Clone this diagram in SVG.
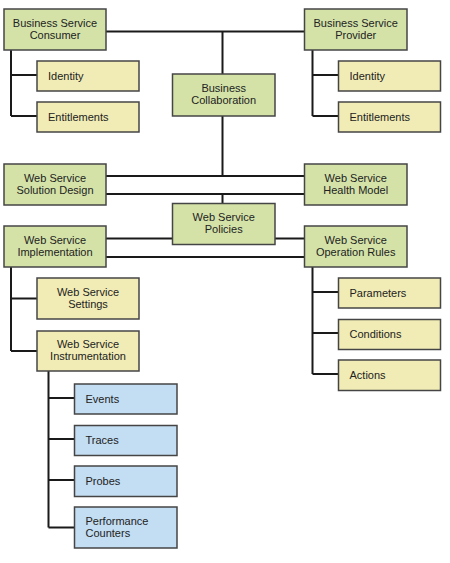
<svg xmlns="http://www.w3.org/2000/svg" width="450" height="563" viewBox="0 0 450 563">
<style>
.box{stroke:#454545;stroke-width:1.5}
.g{fill:#d4e2a8}
.y{fill:#f1ecb5}
.b{fill:#c3ddf2}
text{font-family:"Liberation Sans",Arial,sans-serif;font-size:11px;fill:#222}
.c{text-anchor:middle}
#connectors path{fill:none;stroke:#1a1a1a;stroke-width:2}
</style>
<rect width="450" height="563" fill="#fff"/>
<g id="connectors">
<path d="M106 31.5H304.5M222.5 31.5V74M222.5 116V176"/>
<path d="M11 50V116M11 75H37M11 116H37"/>
<path d="M312.5 50V116M312.5 75H338.5M312.5 116H338.5"/>
<path d="M106 176H304.5M106 194H304.5M222.5 194V203.5"/>
<path d="M106 238.5H172.5M275 238.5H304.5M106 257H304.5"/>
<path d="M11 267V351M11 298.5H37M11 351H37"/>
<path d="M48.5 371V527.5M48.5 398H74.5M48.5 439H74.5M48.5 480H74.5M48.5 527.5H74.5"/>
<path d="M312.5 267V374M312.5 292H338.5M312.5 333H338.5M312.5 374H338.5"/>
</g>
<g id="consumer"><rect class="box g" x="4" y="9" width="102" height="41"/><text class="c" x="55" y="26.5">Business Service</text><text class="c" x="55" y="38.5">Consumer</text></g>
<g id="provider"><rect class="box g" x="304.5" y="9" width="102.5" height="41"/><text class="c" x="355.7" y="26.5">Business Service</text><text class="c" x="355.7" y="38.5">Provider</text></g>
<g id="identity-consumer"><rect class="box y" x="37" y="61" width="102" height="30"/><text x="48" y="79.5">Identity</text></g>
<g id="entitlements-consumer"><rect class="box y" x="37" y="102" width="102" height="30"/><text x="48" y="120.5">Entitlements</text></g>
<g id="identity-provider"><rect class="box y" x="338.5" y="61" width="102" height="30"/><text x="349.5" y="79.5">Identity</text></g>
<g id="entitlements-provider"><rect class="box y" x="338.5" y="102" width="102" height="30"/><text x="349.5" y="120.5">Entitlements</text></g>
<g id="collaboration"><rect class="box g" x="172.5" y="74" width="102.5" height="42"/><text class="c" x="223.7" y="92">Business</text><text class="c" x="223.7" y="104">Collaboration</text></g>
<g id="solution-design"><rect class="box g" x="4" y="164" width="102" height="41"/><text class="c" x="55" y="181.5">Web Service</text><text class="c" x="55" y="193.5">Solution Design</text></g>
<g id="health-model"><rect class="box g" x="304.5" y="164" width="102.5" height="41"/><text class="c" x="355.7" y="181.5">Web Service</text><text class="c" x="355.7" y="193.5">Health Model</text></g>
<g id="policies"><rect class="box g" x="172.5" y="203.5" width="102.5" height="41"/><text class="c" x="223.7" y="221">Web Service</text><text class="c" x="223.7" y="233">Policies</text></g>
<g id="implementation"><rect class="box g" x="4" y="226" width="102" height="41"/><text class="c" x="55" y="243.5">Web Service</text><text class="c" x="55" y="255.5">Implementation</text></g>
<g id="operation-rules"><rect class="box g" x="304.5" y="226" width="102.5" height="41"/><text class="c" x="355.7" y="243.5">Web Service</text><text class="c" x="355.7" y="255.5">Operation Rules</text></g>
<g id="settings"><rect class="box y" x="37" y="278" width="102" height="41"/><text class="c" x="88" y="295.5">Web Service</text><text class="c" x="88" y="307.5">Settings</text></g>
<g id="instrumentation"><rect class="box y" x="37" y="331" width="102" height="40"/><text class="c" x="88" y="348">Web Service</text><text class="c" x="88" y="360">Instrumentation</text></g>
<g id="parameters"><rect class="box y" x="338.5" y="278" width="102" height="30"/><text x="349.5" y="297">Parameters</text></g>
<g id="conditions"><rect class="box y" x="338.5" y="319.5" width="102" height="30"/><text x="349.5" y="338">Conditions</text></g>
<g id="actions"><rect class="box y" x="338.5" y="360" width="102" height="30.5"/><text x="349.5" y="379">Actions</text></g>
<g id="events"><rect class="box b" x="74.5" y="384" width="102.5" height="30"/><text x="85.5" y="403">Events</text></g>
<g id="traces"><rect class="box b" x="74.5" y="425.5" width="102.5" height="30"/><text x="85.5" y="444">Traces</text></g>
<g id="probes"><rect class="box b" x="74.5" y="466" width="102.5" height="30.5"/><text x="85.5" y="485">Probes</text></g>
<g id="performance-counters"><rect class="box b" x="74.5" y="507" width="102.5" height="41"/><text x="85.5" y="525">Performance</text><text x="85.5" y="537">Counters</text></g>
</svg>
